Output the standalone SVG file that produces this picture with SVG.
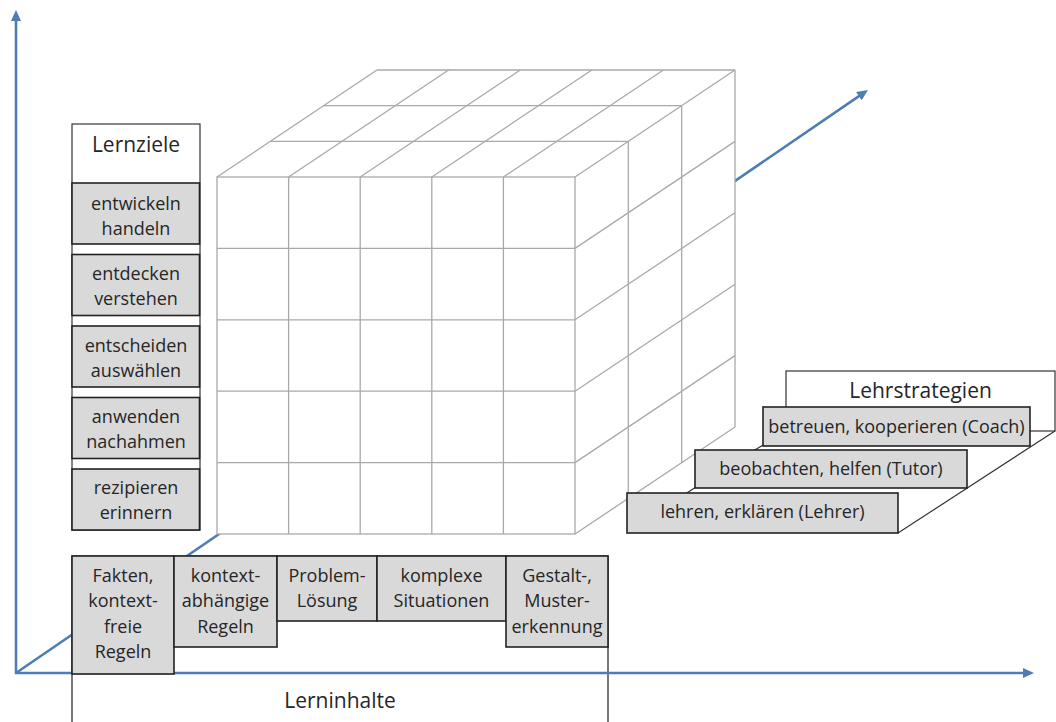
<svg xmlns="http://www.w3.org/2000/svg" width="1056" height="722" viewBox="0 0 1056 722">
  <style>
    .axis { stroke: #4f7db3; stroke-width: 2.6; fill: none; }
    .grid { stroke: #a9a9a9; stroke-width: 1.3; fill: none; }
    .face { fill: #ffffff; stroke: none; }
    .cell { fill: #d9d9d9; stroke: #222222; stroke-width: 1.6; }
    .frame { fill: #ffffff; stroke: #333333; stroke-width: 1.2; }
    .open { fill: none; stroke: #222222; stroke-width: 1.2; }
    .edge { stroke: #333333; stroke-width: 1.2; fill: none; }
    .t { font-family: "Open Sans", "Liberation Sans", sans-serif; font-size: 18px; fill: #262626; text-anchor: middle; }
    .h { font-family: "Open Sans", "Liberation Sans", sans-serif; font-size: 21px; fill: #262626; text-anchor: middle; }
  </style>
  <defs>
    <marker id="arrow" markerUnits="userSpaceOnUse" markerWidth="12" markerHeight="11" refX="5" refY="5" orient="auto">
      <path d="M0,0 L11,5 L0,10 z" fill="#4f7db3"/>
    </marker>
  </defs>

  <rect width="1056" height="722" fill="#ffffff"/>

  <!-- outer frame of the content boxes (open at the bottom) -->
  <g id="lerninhalte">
    <path class="open" d="M72,722 V556 H608 V722"/>
    <text class="h" x="340" y="708">Lerninhalte</text>
  </g>

  <!-- axes -->
  <g id="connectors">
    <line class="axis" x1="16" y1="674" x2="16" y2="16" marker-end="url(#arrow)"/>
    <line class="axis" x1="15" y1="673" x2="1028" y2="673" marker-end="url(#arrow)"/>
    <line class="axis" x1="16" y1="673" x2="863" y2="93.4" marker-end="url(#arrow)"/>
  </g>

  <!-- 5 x 5 x 3 cube -->
  <g id="cube">
    <polygon class="face" points="217,177 377,70 735,70 575,177"/>
    <polygon class="face" points="575,177 735,70 735,427 575,534"/>
    <rect class="face" x="217" y="177" width="358" height="357"/>
    <!-- front face -->
    <rect class="grid" x="217" y="177" width="358" height="357"/>
    <line class="grid" x1="288.6" y1="177" x2="288.6" y2="534"/>
    <line class="grid" x1="360.2" y1="177" x2="360.2" y2="534"/>
    <line class="grid" x1="431.8" y1="177" x2="431.8" y2="534"/>
    <line class="grid" x1="503.4" y1="177" x2="503.4" y2="534"/>
    <line class="grid" x1="217" y1="248.4" x2="575" y2="248.4"/>
    <line class="grid" x1="217" y1="319.8" x2="575" y2="319.8"/>
    <line class="grid" x1="217" y1="391.2" x2="575" y2="391.2"/>
    <line class="grid" x1="217" y1="462.6" x2="575" y2="462.6"/>
    <!-- top face -->
    <line class="grid" x1="270.3" y1="141.3" x2="628.3" y2="141.3"/>
    <line class="grid" x1="323.7" y1="105.7" x2="681.7" y2="105.7"/>
    <line class="grid" x1="377" y1="70" x2="735" y2="70"/>
    <line class="grid" x1="217" y1="177" x2="377" y2="70"/>
    <line class="grid" x1="288.6" y1="177" x2="448.6" y2="70"/>
    <line class="grid" x1="360.2" y1="177" x2="520.2" y2="70"/>
    <line class="grid" x1="431.8" y1="177" x2="591.8" y2="70"/>
    <line class="grid" x1="503.4" y1="177" x2="663.4" y2="70"/>
    <line class="grid" x1="575" y1="177" x2="735" y2="70"/>
    <!-- right face -->
    <line class="grid" x1="575" y1="248.4" x2="735" y2="141.4"/>
    <line class="grid" x1="575" y1="319.8" x2="735" y2="212.8"/>
    <line class="grid" x1="575" y1="391.2" x2="735" y2="284.2"/>
    <line class="grid" x1="575" y1="462.6" x2="735" y2="355.6"/>
    <line class="grid" x1="575" y1="534" x2="735" y2="427"/>
    <line class="grid" x1="628.3" y1="141.3" x2="628.3" y2="498.3"/>
    <line class="grid" x1="681.7" y1="105.7" x2="681.7" y2="462.7"/>
    <line class="grid" x1="735" y1="70" x2="735" y2="427"/>
  </g>

  <!-- learning goals column -->
  <g id="lernziele">
    <rect class="frame" x="72" y="124" width="128" height="406"/>
    <text class="h" x="136" y="152">Lernziele</text>
  </g>
  <g id="ziel-entwickeln">
    <rect class="cell" x="72" y="183" width="127.5" height="61"/>
    <text class="t" x="136" y="210">entwickeln</text>
    <text class="t" x="136" y="235">handeln</text>
  </g>
  <g id="ziel-entdecken">
    <rect class="cell" x="72" y="254.5" width="127.5" height="61"/>
    <text class="t" x="136" y="280">entdecken</text>
    <text class="t" x="136" y="305">verstehen</text>
  </g>
  <g id="ziel-entscheiden">
    <rect class="cell" x="72" y="326" width="127.5" height="61"/>
    <text class="t" x="136" y="352">entscheiden</text>
    <text class="t" x="136" y="377">auswählen</text>
  </g>
  <g id="ziel-anwenden">
    <rect class="cell" x="72" y="397.5" width="127.5" height="61"/>
    <text class="t" x="136" y="423">anwenden</text>
    <text class="t" x="136" y="448">nachahmen</text>
  </g>
  <g id="ziel-rezipieren">
    <rect class="cell" x="72" y="469" width="127.5" height="61"/>
    <text class="t" x="136" y="494">rezipieren</text>
    <text class="t" x="136" y="519">erinnern</text>
  </g>

  <!-- learning contents row -->
  <g id="inhalt-fakten">
    <rect class="cell" x="72" y="556" width="102" height="118"/>
    <text class="t" x="123" y="582">Fakten,</text>
    <text class="t" x="123" y="607">kontext-</text>
    <text class="t" x="123" y="633">freie</text>
    <text class="t" x="123" y="658">Regeln</text>
  </g>
  <g id="inhalt-kontext">
    <rect class="cell" x="174" y="556" width="103" height="91"/>
    <text class="t" x="225.5" y="582">kontext-</text>
    <text class="t" x="225.5" y="607">abhängige</text>
    <text class="t" x="225.5" y="633">Regeln</text>
  </g>
  <g id="inhalt-problem">
    <rect class="cell" x="277" y="556" width="100" height="65"/>
    <text class="t" x="327" y="582">Problem-</text>
    <text class="t" x="327" y="607">Lösung</text>
  </g>
  <g id="inhalt-komplex">
    <rect class="cell" x="377" y="556" width="129" height="65"/>
    <text class="t" x="441.5" y="582">komplexe</text>
    <text class="t" x="441.5" y="607">Situationen</text>
  </g>
  <g id="inhalt-gestalt">
    <rect class="cell" x="506" y="556" width="102" height="91"/>
    <text class="t" x="557" y="582">Gestalt-,</text>
    <text class="t" x="557" y="607">Muster-</text>
    <text class="t" x="557" y="633">erkennung</text>
  </g>

  <!-- teaching strategies staircase -->
  <g id="lehrstrategien">
    <rect class="frame" x="786" y="371" width="269" height="60"/>
    <text class="h" x="920.5" y="398">Lehrstrategien</text>
    <line class="edge" x1="1055" y1="431" x2="898" y2="533"/>
    <line class="edge" x1="753" y1="451" x2="764" y2="444.5"/>
    <line class="edge" x1="686" y1="493.5" x2="696" y2="487"/>
  </g>
  <g id="strategie-coach">
    <rect class="cell" x="763" y="407" width="267" height="39"/>
    <text class="t" x="896.5" y="433">betreuen, kooperieren (Coach)</text>
  </g>
  <g id="strategie-tutor">
    <rect class="cell" x="695" y="450" width="272" height="38"/>
    <text class="t" x="831" y="475">beobachten, helfen (Tutor)</text>
  </g>
  <g id="strategie-lehrer">
    <rect class="cell" x="627" y="493" width="271" height="40"/>
    <text class="t" x="762.5" y="518">lehren, erklären (Lehrer)</text>
  </g>
</svg>
